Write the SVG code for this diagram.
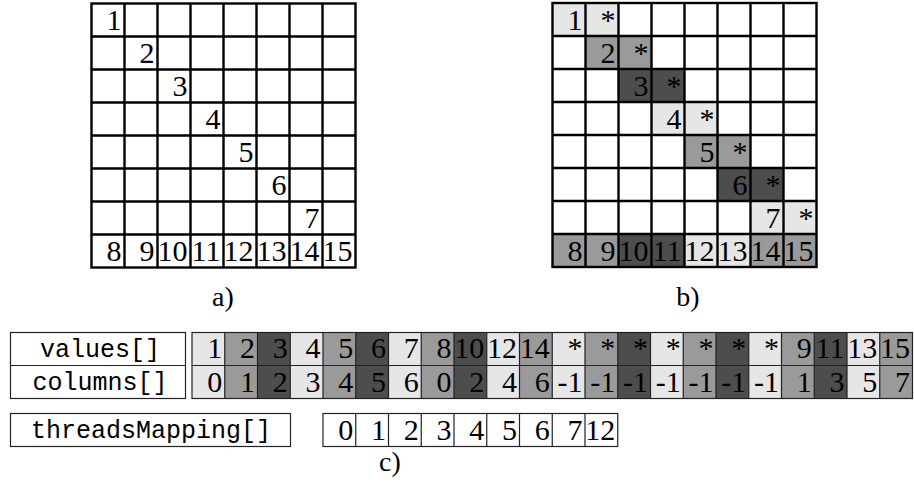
<svg xmlns="http://www.w3.org/2000/svg" width="914" height="497" viewBox="0 0 914 497">
<style>
.g{fill:none;stroke:#000;stroke-width:2.4}
.a{fill:none;stroke:#222;stroke-width:1.2}
.n{font-family:"Liberation Serif","DejaVu Serif",serif;font-size:30px;fill:#000;text-anchor:end}
.m{font-family:"Liberation Mono","DejaVu Sans Mono",monospace;font-size:25px;fill:#000;text-anchor:middle}
.lb{font-family:"Liberation Serif","DejaVu Serif",serif;font-size:28px;fill:#000;text-anchor:middle}
.L{fill:#e6e6e6}.M{fill:#9a9a9a}.D{fill:#4d4d4d}
</style>
<rect width="914" height="497" fill="#fff"/>
<g id="gridA">
<rect x="91.5" y="3.5" width="264" height="264" fill="#fff"/>
<g class="n">
<text x="121.5" y="30">1</text><text x="154.5" y="63">2</text><text x="187.5" y="96">3</text><text x="220.5" y="129">4</text><text x="253.5" y="162">5</text><text x="286.5" y="195">6</text><text x="319.5" y="228">7</text>
<text x="121.5" y="261">8</text><text x="154.5" y="261">9</text><text x="187.5" y="261">10</text><text x="220.5" y="261">11</text><text x="253.5" y="261">12</text><text x="286.5" y="261">13</text><text x="319.5" y="261">14</text><text x="352.5" y="261">15</text>
</g>
<rect class="g" x="91.5" y="3.5" width="264" height="264"/>
<path class="g" d="M124.5 3.5V267.5M157.5 3.5V267.5M190.5 3.5V267.5M223.5 3.5V267.5M256.5 3.5V267.5M289.5 3.5V267.5M322.5 3.5V267.5M91.5 36.5H355.5M91.5 69.5H355.5M91.5 102.5H355.5M91.5 135.5H355.5M91.5 168.5H355.5M91.5 201.5H355.5M91.5 234.5H355.5"/>
</g>
<g id="gridB">
<rect class="L" x="552.5" y="3" width="66" height="33"/>
<rect class="M" x="585.5" y="36" width="66" height="33"/>
<rect class="D" x="618.5" y="69" width="66" height="33"/>
<rect class="L" x="651.5" y="102" width="66" height="33"/>
<rect class="M" x="684.5" y="135" width="66" height="33"/>
<rect class="D" x="717.5" y="168" width="66" height="33"/>
<rect class="L" x="750.5" y="201" width="66" height="33"/>
<rect class="M" x="552.5" y="234" width="66" height="33"/>
<rect class="D" x="618.5" y="234" width="66" height="33"/>
<rect class="L" x="684.5" y="234" width="66" height="33"/>
<rect class="M" x="750.5" y="234" width="66" height="33"/>
<g class="n">
<text x="582.5" y="29.5">1</text><text x="615.5" y="29.5">*</text>
<text x="615.5" y="62.5">2</text><text x="648.5" y="62.5">*</text>
<text x="648.5" y="95.5">3</text><text x="681.5" y="95.5">*</text>
<text x="681.5" y="128.5">4</text><text x="714.5" y="128.5">*</text>
<text x="714.5" y="161.5">5</text><text x="747.5" y="161.5">*</text>
<text x="747.5" y="194.5">6</text><text x="780.5" y="194.5">*</text>
<text x="780.5" y="227.5">7</text><text x="813.5" y="227.5">*</text>
<text x="582.5" y="260.5">8</text><text x="615.5" y="260.5">9</text><text x="648.5" y="260.5">10</text><text x="681.5" y="260.5">11</text><text x="714.5" y="260.5">12</text><text x="747.5" y="260.5">13</text><text x="780.5" y="260.5">14</text><text x="813.5" y="260.5">15</text>
</g>
<rect class="g" x="552.5" y="3" width="264" height="264"/>
<path class="g" d="M585.5 3V267M618.5 3V267M651.5 3V267M684.5 3V267M717.5 3V267M750.5 3V267M783.5 3V267M552.5 36H816.5M552.5 69H816.5M552.5 102H816.5M552.5 135H816.5M552.5 168H816.5M552.5 201H816.5M552.5 234H816.5"/>
</g>
<g id="labels">
<text class="lb" x="223" y="306">a)</text>
<text class="lb" x="688" y="306">b)</text>
<text class="lb" x="390" y="471">c)</text>
</g>
<g id="arrays">
<rect class="L" x="192" y="332.5" width="32.75" height="66"/>
<rect class="M" x="224.75" y="332.5" width="32.75" height="66"/>
<rect class="D" x="257.5" y="332.5" width="32.75" height="66"/>
<rect class="L" x="290.25" y="332.5" width="32.75" height="66"/>
<rect class="M" x="323" y="332.5" width="32.75" height="66"/>
<rect class="D" x="355.75" y="332.5" width="32.75" height="66"/>
<rect class="L" x="388.5" y="332.5" width="32.75" height="66"/>
<rect class="M" x="421.25" y="332.5" width="32.75" height="66"/>
<rect class="D" x="454" y="332.5" width="32.75" height="66"/>
<rect class="L" x="486.75" y="332.5" width="32.75" height="66"/>
<rect class="M" x="519.5" y="332.5" width="32.75" height="66"/>
<rect class="L" x="552.25" y="332.5" width="32.75" height="66"/>
<rect class="M" x="585" y="332.5" width="32.75" height="66"/>
<rect class="D" x="617.75" y="332.5" width="32.75" height="66"/>
<rect class="L" x="650.5" y="332.5" width="32.75" height="66"/>
<rect class="M" x="683.25" y="332.5" width="32.75" height="66"/>
<rect class="D" x="716" y="332.5" width="32.75" height="66"/>
<rect class="L" x="748.75" y="332.5" width="32.75" height="66"/>
<rect class="M" x="781.5" y="332.5" width="32.75" height="66"/>
<rect class="D" x="814.25" y="332.5" width="32.75" height="66"/>
<rect class="L" x="847" y="332.5" width="32.75" height="66"/>
<rect class="M" x="879.75" y="332.5" width="32.75" height="66"/>
<g class="n">
<text x="222.25" y="358">1</text><text x="255" y="358">2</text><text x="287.75" y="358">3</text><text x="320.5" y="358">4</text><text x="353.25" y="358">5</text><text x="386" y="358">6</text><text x="418.75" y="358">7</text><text x="451.5" y="358">8</text><text x="484.25" y="358">10</text><text x="517" y="358">12</text><text x="549.75" y="358">14</text><text x="582.5" y="358">*</text><text x="615.25" y="358">*</text><text x="648" y="358">*</text><text x="680.75" y="358">*</text><text x="713.5" y="358">*</text><text x="746.25" y="358">*</text><text x="779" y="358">*</text><text x="811.75" y="358">9</text><text x="844.5" y="358">11</text><text x="877.25" y="358">13</text><text x="910" y="358">15</text>
<text x="222.25" y="391.5">0</text><text x="255" y="391.5">1</text><text x="287.75" y="391.5">2</text><text x="320.5" y="391.5">3</text><text x="353.25" y="391.5">4</text><text x="386" y="391.5">5</text><text x="418.75" y="391.5">6</text><text x="451.5" y="391.5">0</text><text x="484.25" y="391.5">2</text><text x="517" y="391.5">4</text><text x="549.75" y="391.5">6</text><text x="582.5" y="391.5">-1</text><text x="615.25" y="391.5">-1</text><text x="648" y="391.5">-1</text><text x="680.75" y="391.5">-1</text><text x="713.5" y="391.5">-1</text><text x="746.25" y="391.5">-1</text><text x="779" y="391.5">-1</text><text x="811.75" y="391.5">1</text><text x="844.5" y="391.5">3</text><text x="877.25" y="391.5">5</text><text x="910" y="391.5">7</text>
<text x="353.25" y="440">0</text><text x="386" y="440">1</text><text x="418.75" y="440">2</text><text x="451.5" y="440">3</text><text x="484.25" y="440">4</text><text x="517" y="440">5</text><text x="549.75" y="440">6</text><text x="582.5" y="440">7</text><text x="615.25" y="440">12</text>
</g>
<rect class="a" x="10.5" y="332.5" width="175" height="66"/>
<path class="a" d="M10.5 365.5H185.5"/>
<rect class="a" x="192" y="332.5" width="720.5" height="66"/>
<path class="a" d="M192 365.5H912.5M224.75 332.5V398.5M257.5 332.5V398.5M290.25 332.5V398.5M323 332.5V398.5M355.75 332.5V398.5M388.5 332.5V398.5M421.25 332.5V398.5M454 332.5V398.5M486.75 332.5V398.5M519.5 332.5V398.5M552.25 332.5V398.5M585 332.5V398.5M617.75 332.5V398.5M650.5 332.5V398.5M683.25 332.5V398.5M716 332.5V398.5M748.75 332.5V398.5M781.5 332.5V398.5M814.25 332.5V398.5M847 332.5V398.5M879.75 332.5V398.5"/>
<rect class="a" x="10.5" y="413.5" width="280" height="33"/>
<rect class="a" x="323" y="413.5" width="294.75" height="33"/>
<path class="a" d="M355.75 413.5V446.5M388.5 413.5V446.5M421.25 413.5V446.5M454 413.5V446.5M486.75 413.5V446.5M519.5 413.5V446.5M552.25 413.5V446.5M585 413.5V446.5"/>
<g class="m">
<text x="100" y="357">values[]</text>
<text x="100" y="390">columns[]</text>
<text x="151" y="438">threadsMapping[]</text>
</g>
</g>
</svg>
